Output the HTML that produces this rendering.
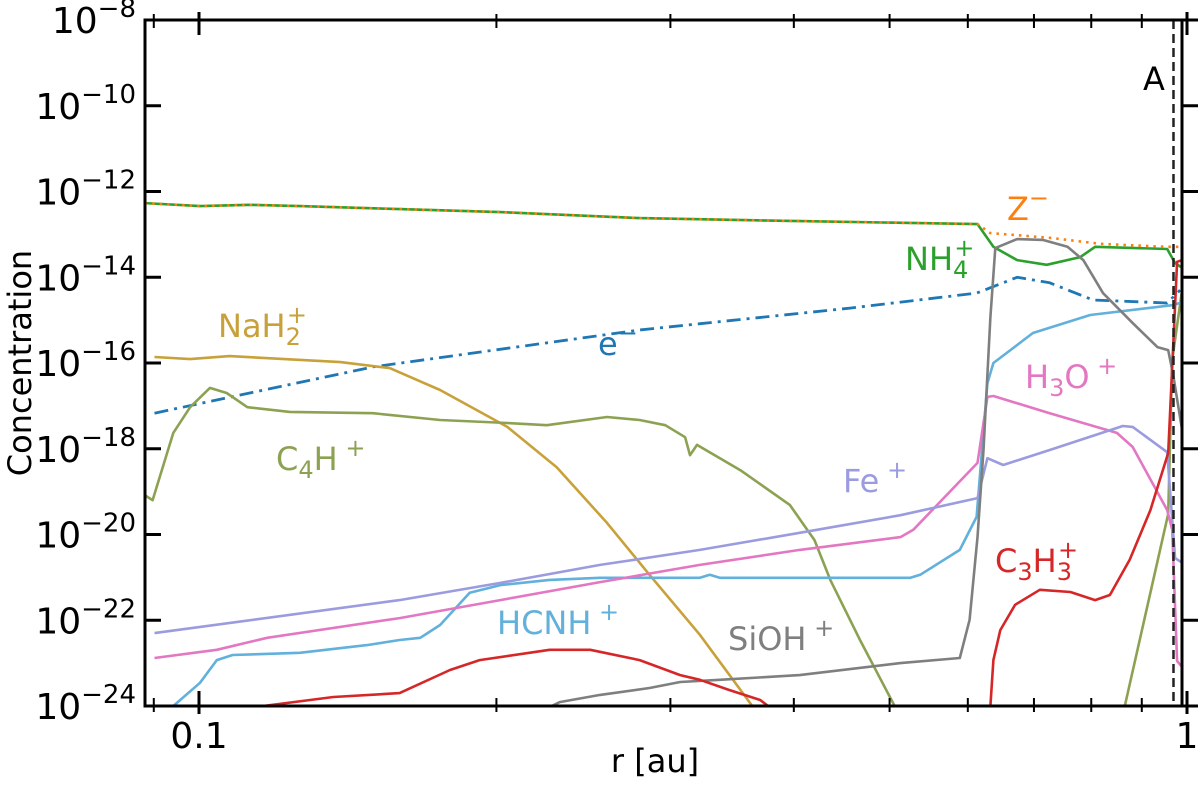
<!DOCTYPE html>
<html><head><meta charset="utf-8"><style>
html,body{margin:0;padding:0;background:#fff;width:1200px;height:791px;overflow:hidden;}
svg{display:block;font-family:"DejaVu Sans","Liberation Sans",sans-serif;overflow:hidden;}
</style></head><body>
<svg id="chart" width="1200" height="791" viewBox="0 0 1200 791" xmlns="http://www.w3.org/2000/svg"></svg>
<script>
// log10(r) and log10(concentration) for each series
const nh4LogR=[-1.055,-0.999,-0.948,-0.898,-0.797,-0.695,-0.554,-0.392,-0.212,-0.196,-0.172,-0.142,-0.108,-0.093,-0.020,-0.012,-0.005];
const nh4LogC=[-12.27,-12.34,-12.31,-12.34,-12.41,-12.48,-12.62,-12.69,-12.76,-13.29,-13.60,-13.71,-13.53,-13.29,-13.34,-13.67,-13.78];
const zLogR=[-1.055,-0.999,-0.948,-0.898,-0.797,-0.695,-0.554,-0.392,-0.212,-0.199,-0.139,-0.088,-0.022,-0.005];
const zLogC=[-12.27,-12.34,-12.31,-12.34,-12.41,-12.48,-12.62,-12.69,-12.76,-12.97,-13.08,-13.22,-13.29,-13.29];
const eLogR=[-1.045,-0.824,-0.554,-0.341,-0.213,-0.172,-0.139,-0.095,-0.020,-0.007];
const eLogC=[-17.17,-16.09,-15.23,-14.72,-14.37,-14.00,-14.13,-14.53,-14.60,-14.30];
const naLogR=[-1.045,-1.009,-0.969,-0.857,-0.807,-0.756,-0.688,-0.638,-0.587,-0.544,-0.493,-0.440,-0.412];
const naLogC=[-15.86,-15.91,-15.84,-15.98,-16.12,-16.63,-17.49,-18.43,-19.73,-20.94,-22.34,-24.0,-25.26];
const c4hLogR=[-1.055,-1.047,-1.026,-1.009,-0.989,-0.972,-0.951,-0.908,-0.824,-0.756,-0.688,-0.648,-0.587,-0.554,-0.528,-0.508,-0.503,-0.496,-0.452,-0.402,-0.377,-0.361,-0.331,-0.296,-0.189,-0.063,-0.019,-0.015,-0.005];
const c4hLogC=[-19.08,-19.20,-17.63,-17.03,-16.58,-16.70,-17.03,-17.14,-17.17,-17.33,-17.40,-17.45,-17.26,-17.33,-17.45,-17.73,-18.15,-17.91,-18.50,-19.31,-20.13,-21.06,-22.46,-24.0,-27,-24.0,-19.52,-15.93,-14.30];
const c3h3LogR=[-0.969,-0.935,-0.864,-0.797,-0.746,-0.716,-0.645,-0.604,-0.554,-0.513,-0.493,-0.463,-0.432,-0.412,-0.300,-0.199,-0.196,-0.189,-0.174,-0.149,-0.118,-0.093,-0.078,-0.058,-0.037,-0.019,-0.010,-0.005];
const c3h3LogC=[-24.14,-24.0,-23.79,-23.70,-23.16,-22.93,-22.69,-22.69,-22.93,-23.28,-23.39,-23.63,-23.86,-24.21,-27,-24.0,-22.93,-22.23,-21.64,-21.29,-21.34,-21.53,-21.41,-20.59,-19.43,-18.10,-13.64,-13.60];
const hcnhLogR=[-1.039,-1.026,-0.999,-0.982,-0.966,-0.898,-0.830,-0.797,-0.776,-0.756,-0.726,-0.695,-0.645,-0.594,-0.493,-0.483,-0.473,-0.392,-0.280,-0.270,-0.230,-0.213,-0.202,-0.196,-0.156,-0.098,-0.014,-0.005];
const hcnhLogC=[-24.56,-24.0,-23.46,-22.93,-22.81,-22.76,-22.58,-22.46,-22.41,-22.11,-21.36,-21.18,-21.06,-21.01,-21.01,-20.94,-21.01,-21.01,-21.01,-20.94,-20.36,-19.59,-16.47,-16.00,-15.30,-14.88,-14.65,-14.58];
const h3oLogR=[-1.045,-0.982,-0.931,-0.797,-0.695,-0.594,-0.493,-0.392,-0.290,-0.277,-0.212,-0.202,-0.196,-0.139,-0.071,-0.055,-0.020,-0.015,-0.010,-0.005];
const h3oLogC=[-22.88,-22.69,-22.41,-21.95,-21.53,-21.11,-20.71,-20.36,-20.06,-19.89,-18.33,-16.79,-16.77,-17.17,-17.63,-17.96,-19.43,-19.89,-22.95,-23.09];
const feLogR=[-1.045,-0.797,-0.695,-0.594,-0.493,-0.392,-0.290,-0.212,-0.202,-0.186,-0.139,-0.065,-0.055,-0.020,-0.012,-0.005];
const feLogC=[-22.30,-21.53,-21.13,-20.71,-20.36,-19.96,-19.55,-19.15,-18.22,-18.38,-18.03,-17.47,-17.49,-18.08,-20.55,-20.66];
const siohLogR=[-0.655,-0.635,-0.594,-0.544,-0.513,-0.473,-0.392,-0.290,-0.230,-0.220,-0.212,-0.206,-0.199,-0.194,-0.172,-0.146,-0.121,-0.105,-0.085,-0.055,-0.030,-0.019,-0.014,-0.005];
const siohLogC=[-24.14,-23.91,-23.74,-23.58,-23.44,-23.39,-23.28,-23.00,-22.88,-21.99,-20.06,-18.03,-14.93,-13.32,-13.11,-13.13,-13.29,-13.60,-14.37,-15.07,-15.63,-15.70,-16.28,-17.56];
const yTickExps=[-8,-10,-12,-14,-16,-18,-20,-22,-24];
const xTickVals=[0.1,1];
const xTickLabels=["0.1","1"];
const xMinorVals=[0.09,0.2,0.3,0.4,0.5,0.6,0.7,0.8,0.9];
const markerR=0.969;

const NS="http://www.w3.org/2000/svg";
const svg=document.getElementById('chart');
const L=145,R=1182,T=20,B=706;
const X=lr=>199+(lr+1)*988;
const Y=lc=>T+(-8-Math.max(lc,-25.5))*42.875;
function el(tag,attrs,parent){const e=document.createElementNS(NS,tag);for(const k in attrs)e.setAttribute(k,attrs[k]);(parent||svg).appendChild(e);return e;}

const defs=el('defs',{});
const cp=el('clipPath',{id:'plotclip'},defs);
el('rect',{x:L,y:T,width:R-L,height:B-T},cp);
const g=el('g',{'clip-path':'url(#plotclip)'});



function series(name,lr,lc,color,dash,w){
  const d=lr.map((v,i)=>(i?'L':'M')+X(v).toFixed(1)+' '+Y(lc[i]).toFixed(1)).join(' ');
  const p=el('path',{d:d,fill:'none',stroke:color,'stroke-width':w||2.6,'stroke-linejoin':'round'},g);
  if(dash)p.setAttribute('stroke-dasharray',dash);
  
  
}
series('line-nh4',nh4LogR,nh4LogC,'#2ca02c');
series('line-z-minus',zLogR,zLogC,'#ff7f0e','2.5 5',2.6);
series('line-electron',eLogR,eLogC,'#1f77b4','14 6 3 6',2.8);
series('line-nah2',naLogR,naLogC,'#c9a13a');
series('line-c4h',c4hLogR,c4hLogC,'#8ca252');
series('line-hcnh',hcnhLogR,hcnhLogC,'#62b0dc');
series('line-h3o',h3oLogR,h3oLogC,'#e377c2');
series('line-fe',feLogR,feLogC,'#9b9be0');
series('line-sioh',siohLogR,siohLogC,'#7f7f7f');
series('line-c3h3',c3h3LogR,c3h3LogC,'#d62728');

// marker line A
const mx=X(Math.log10(markerR));
const ml=el('line',{x1:mx,y1:T,x2:mx,y2:B,stroke:'#222','stroke-width':2.5,'stroke-dasharray':'9 5'});



// frame
const fr=el('rect',{x:L,y:T,width:R-L,height:B-T,fill:'none',stroke:'#000','stroke-width':3});



// y ticks
yTickExps.forEach(e=>{
  const y=Y(e);
  const t1=el('line',{x1:L,y1:y,x2:L+16,y2:y,stroke:'#000','stroke-width':3});
  
  
  const t2=el('line',{x1:R,y1:y,x2:R+16,y2:y,stroke:'#000','stroke-width':3});
  
  
  const tx=el('text',{x:136,y:y+13,'text-anchor':'end','font-size':36,fill:'#000'});
  
  
  tx.appendChild(document.createTextNode('10'));
  const sp=el('tspan',{dy:-16,'font-size':26},tx);
  sp.textContent='\u2212'+Math.abs(e);
});
// x ticks
xTickVals.forEach((v,i)=>{
  const x=X(Math.log10(v));
  [[B-15,B+8],[T-8,T+15]].forEach(([a,b])=>{
    const t=el('line',{x1:x,y1:a,x2:x,y2:b,stroke:'#000','stroke-width':3});
    
    
  });
  const tx=el('text',{x:x,y:748,'text-anchor':'middle','font-size':36,fill:'#000'});
  
  
  tx.textContent=xTickLabels[i];
});
xMinorVals.forEach(v=>{
  const x=X(Math.log10(v));
  [[B-8,B+6],[T-6,T+8]].forEach(([a,b])=>{
    const t=el('line',{x1:x,y1:a,x2:x,y2:b,stroke:'#000','stroke-width':2});
    
    
  });
});

function label(name,x,y,color,parts,size){
  const t=el('text',{x:x,y:y,'font-size':size||32,fill:color});
  
  
  parts.forEach(p=>{
    const s=el('tspan',{},t);
    if(p[1]==='sub'){s.setAttribute('font-size',24);s.setAttribute('dy',8);}
    if(p[1]==='sup'){s.setAttribute('font-size',24);s.setAttribute('dy',-14);}
    if(p[1]==='supafter'){s.setAttribute('font-size',24);s.setAttribute('dy',-22);s.setAttribute('dx',-14);}
    if(p[1]==='back'){s.setAttribute('dy',p[2]);}
    s.textContent=p[0];
  });
}
label('label-nah2',218,337,'#c9a13a',[['NaH'],['2','sub'],['+','supafter']]);
label('label-electron',598,355,'#1f77b4',[['e'],['\u2212','sup']]);
label('label-c4h',276,470,'#8ca252',[['C'],['4','sub'],['H','back',-8],[' +','sup']]);
label('label-fe',843,492,'#9b9be0',[['Fe'],[' +','sup']]);
label('label-h3o',1025,388,'#e377c2',[['H'],['3','sub'],['O','back',-8],[' +','sup']]);
label('label-nh4',905,270,'#2ca02c',[['NH'],['4','sub'],['+','supafter']]);
label('label-z-minus',1007,220,'#ff7f0e',[['Z'],['\u2212','sup']]);
label('label-c3h3',995,572,'#d62728',[['C'],['3','sub'],['H','back',-8],['3','sub'],['+','supafter']]);
label('label-hcnh',497,634,'#62b0dc',[['HCNH'],[' +','sup']]);
label('label-sioh',728,650,'#7f7f7f',[['SiOH'],[' +','sup']]);
label('label-a',1143,90,'#000',[['A']]);

const xt=el('text',{x:655,y:772,'text-anchor':'middle','font-size':32,fill:'#000'});


xt.textContent='r [au]';
const yt=el('text',{x:0,y:0,'text-anchor':'middle','font-size':32,fill:'#000',transform:'translate(31,363) rotate(-90)'});


yt.textContent='Concentration';
</script>
</body></html>
